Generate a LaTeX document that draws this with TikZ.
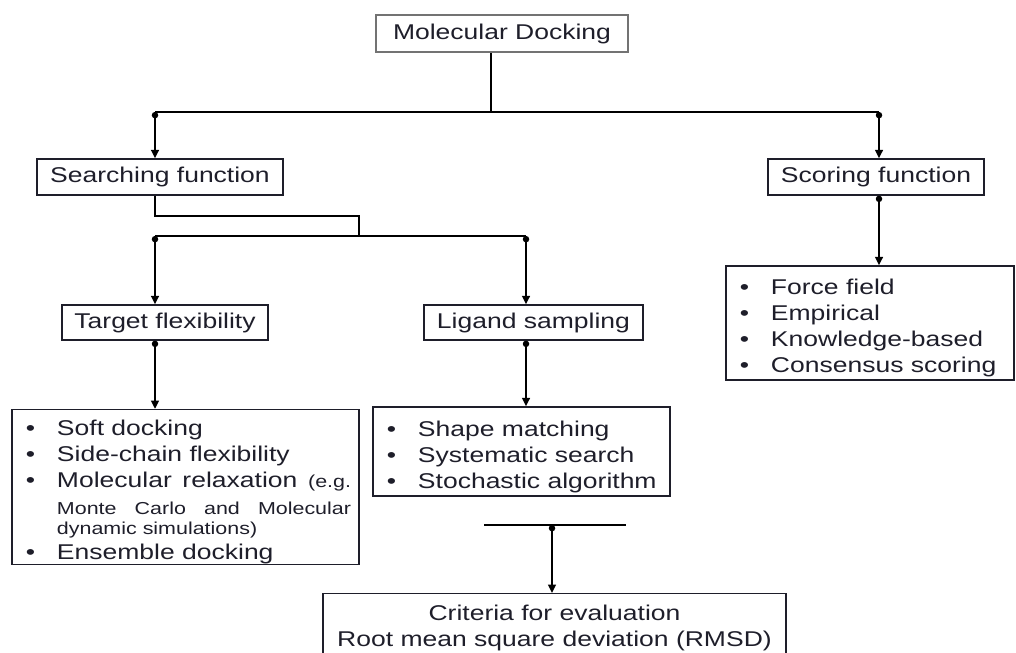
\documentclass[tikz,border=0pt]{standalone}
\usepackage{fontspec}
\setmainfont[FakeStretch=1.24]{Liberation Sans}
\usepackage{enumitem}
\usepackage{xcolor}
\usepackage{tikz}
\usetikzlibrary{arrows.meta,positioning}

\definecolor{ink}{RGB}{30,30,42}
\newcommand{\smallfont}{\fontsize{12.3pt}{14pt}\selectfont}
\setlist[itemize]{nosep,leftmargin=0.925cm,labelwidth=0.925cm,labelsep=0pt,align=left,label=\hspace{0.15cm}\textbullet}
\hyphenpenalty=10000
\exhyphenpenalty=10000

\tikzset{
  box/.style={draw=ink, line width=1pt, minimum height=0.875cm, inner sep=0pt, text=ink,
    font=\fontsize{15.2pt}{18.4pt}\selectfont},
  listbox/.style={draw=ink, line width=1pt, inner xsep=0.2cm, inner ysep=0pt, align=justify, text=ink,
    font=\fontsize{15.2pt}{18.4pt}\selectfont},
  link/.style={line width=1.6pt},
  arr/.style={line width=1.6pt, {Circle[length=4.5pt]}-{Triangle[length=6pt,width=5.5pt]}},
}

\begin{document}
\begin{tikzpicture}[x=0.025cm,y=-0.025cm]
    \useasboundingbox (0,0) rectangle (1016,652);
    \clip (0,0) rectangle (1016,652);

    % Top level
    \node[box, minimum width=6.3cm, minimum height=0.925cm, line width=1.4pt, draw=black!55] (dock) at (502,33.5) {Molecular Docking};
    \node[box, minimum width=6.15cm, minimum height=0.9cm] (search) at (160,177) {Searching function};
    \node[box, minimum width=5.4cm, minimum height=0.9cm] (score) at (876,177) {Scoring function};

    \coordinate (top) at (491,112);
    \coordinate (left1) at (155,112);
    \coordinate (right1) at (879,112);
    \draw[link] (dock.south -| top) -- (top);
    \draw[link] (left1) -- (right1);
    \draw[arr] (left1) -- (left1 |- search.north);
    \draw[arr] (right1) -- (right1 |- score.north);

    % Searching function
    \node[box, minimum width=5.15cm] (target) at (165,322.5) {Target flexibility};
    \node[box, minimum width=5.475cm] (ligand) at (533.5,322.5) {Ligand sampling};

    \coordinate (bend) at (155,216);
    \coordinate (mid) at (359,236);
    \coordinate (left2) at (155,236);
    \coordinate (right2) at (526,236);
    \draw[link] (search.south -| bend) -- (bend) -| (mid);
    \draw[link] (left2) -- (right2);
    \draw[arr] (left2) -- (left2 |- target.north);
    \draw[arr] (right2) -- (right2 |- ligand.north);

    % Lists
    \node[listbox, text width=8.275cm, minimum height=3.85cm] (tlist) at (185.5,487) {%
      \begin{itemize}
        \item Soft docking
        \item Side-chain flexibility
        \item \rule[-0.33cm]{0pt}{0.83cm}Molecular relaxation {\smallfont (e.g. Monte Carlo and Molecular dynamic simulations)\par}
        \item Ensemble docking
      \end{itemize}};
    \node[listbox, text width=7.025cm, minimum height=2.225cm] (llist) at (521.5,451.5) {%
      \begin{itemize}
        \item Shape matching
        \item Systematic search
        \item Stochastic algorithm
      \end{itemize}};
    \node[listbox, text width=6.8cm, minimum height=2.85cm] (slist) at (870,323) {%
      \begin{itemize}
        \item Force field
        \item Empirical
        \item Knowledge-based
        \item Consensus scoring
      \end{itemize}};

    \draw[arr] (target.south -| left2) -- (left2 |- tlist.north);
    \draw[arr] (ligand.south -| right2) -- (right2 |- llist.north);
    \draw[arr] (score.south -| right1) -- (right1 |- slist.north);

    % Evaluation
    \node[box, anchor=north, minimum width=11.575cm, inner ysep=0.275cm, align=center] (crit) at (554.5,593)
      {Criteria for evaluation\\Root mean square deviation (RMSD)\rule[-0.6cm]{0pt}{0pt}};

    \coordinate (barl) at (484,525);
    \coordinate (barr) at (626,525);
    \coordinate (barm) at (552,525);
    \draw[link] (barl) -- (barr);
    \draw[arr] (barm) -- (barm |- crit.north);
\end{tikzpicture}
\end{document}
